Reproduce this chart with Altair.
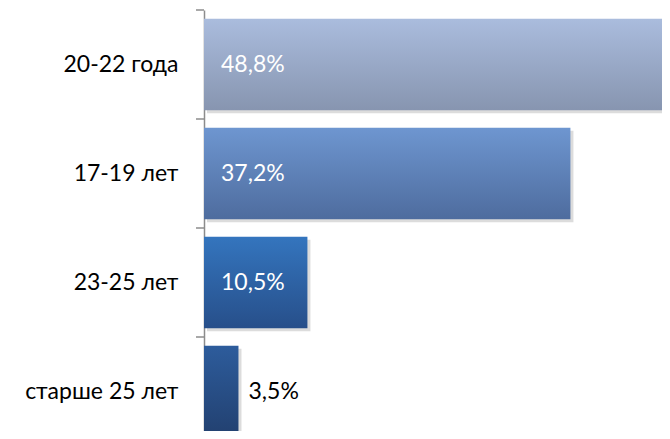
import altair as alt
import pandas as pd

categories = ["20-22 года", "17-19 лет", "23-25 лет", "старше 25 лет"]
values = [48.8, 37.2, 10.5, 3.5]
labels = ["48,8%", "37,2%", "10,5%", "3,5%"]
inside = [True, True, True, False]
top_colors = ["#AABCDD", "#6E96D0", "#3475BE", "#2D5C9C"]
bottom_colors = ["#8795B0", "#4E6C9E", "#274F8A", "#22406F"]

df = pd.DataFrame({"category": categories, "value": values, "label": labels, "inside": inside})

FONT = "Lato"
FS = 23

y_scale = alt.Scale(range=[0, 436], paddingInner=0.16, paddingOuter=0.08)
y_axis = alt.Axis(
    title=None,
    domainColor="#8c8c8c",
    domainWidth=1.5,
    ticks=False,
    labelFontSize=FS,
    labelFont=FONT,
    labelColor="#000000",
    labelPadding=26,
)
y_enc = alt.Y("category:N", sort=categories, scale=y_scale, axis=y_axis)
x_enc = alt.X("value:Q", scale=alt.Scale(domain=[0, 50], range=[0, 492.5], nice=False, zero=True), axis=None)

base = alt.Chart(df)

shadow = base.mark_bar(color="#9a9a9a", opacity=0.35, xOffset=3, yOffset=3).encode(x=x_enc, y=y_enc)

ticks = base.mark_rule(color="#8c8c8c", strokeWidth=1.5, yOffset=-8.72).encode(
    y=alt.Y("category:N", sort=categories, bandPosition=0, scale=y_scale, axis=y_axis),
    x=alt.value(-8),
    x2=alt.value(0),
)

layers = [shadow]
for cat, top, bot in zip(categories, top_colors, bottom_colors):
    layers.append(
        base.transform_filter(alt.datum.category == cat)
        .mark_bar(
            color=alt.Gradient(
                gradient="linear",
                stops=[alt.GradientStop(color=top, offset=0), alt.GradientStop(color=bot, offset=1)],
                x1=0, x2=0, y1=0, y2=1,
            )
        )
        .encode(x=x_enc, y=y_enc)
    )

text_in = base.transform_filter(alt.datum.inside == True).mark_text(
    align="left", baseline="middle", dx=17, fontSize=FS, font=FONT, color="white"
).encode(x=alt.value(0), y=y_enc, text="label:N")

text_out = base.transform_filter(alt.datum.inside == False).mark_text(
    align="left", baseline="middle", dx=10, fontSize=FS, font=FONT, color="black"
).encode(x=x_enc, y=y_enc, text="label:N")

layers += [ticks, text_in, text_out]

chart = alt.layer(*layers).properties(
    width=458,
    height=421,
    padding={"left": 196, "top": 2, "right": 0, "bottom": 0},
    autosize="none",
).configure_view(stroke=None)

chart.save("out.html", embed_options={"renderer": "svg", "actions": False})
